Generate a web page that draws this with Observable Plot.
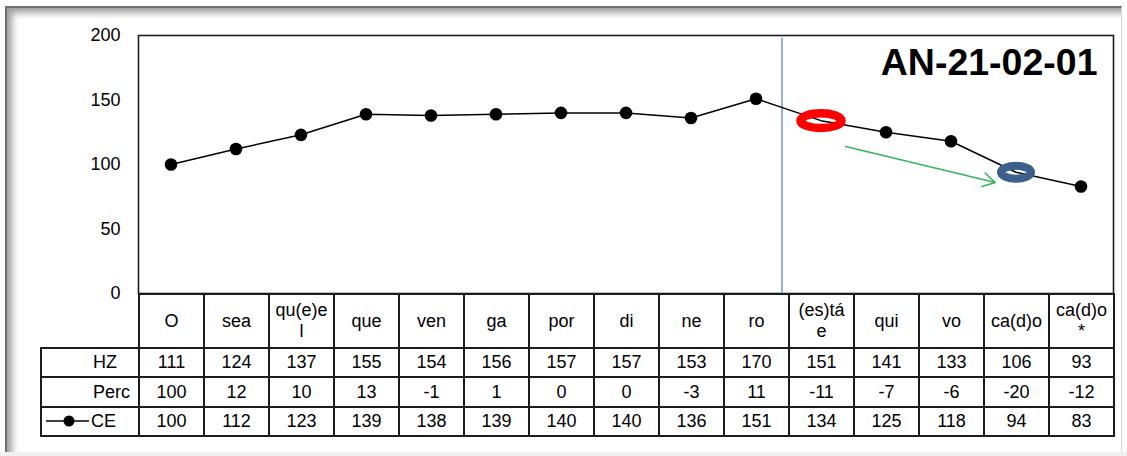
<!DOCTYPE html>
<html><head><meta charset="utf-8">
<script src="https://cdn.jsdelivr.net/npm/d3@7"></script>
<script src="https://cdn.jsdelivr.net/npm/@observablehq/plot@0.6"></script>
<style>
html,body{margin:0;padding:0;background:#fff;}
body{width:1127px;height:456px;position:relative;overflow:hidden;font-family:"Liberation Sans",Arial,sans-serif;}
#band{position:absolute;left:0;top:452px;width:1127px;height:4px;background:#f0f0f0;}
#frame{position:absolute;left:5px;top:6px;width:1117px;height:446px;box-sizing:border-box;border-top:2px solid #6e6e6e;border-left:2px solid #6e6e6e;border-right:1px solid #d8d8d8;box-shadow:inset 9px 9px 7px -4px rgba(0,0,0,0.38);background:#fff;}
#chart{position:absolute;left:0;top:0;}
#table{position:absolute;left:40px;top:293px;}
#table table{border-collapse:collapse;table-layout:fixed;width:1073px;font-size:18px;color:#000;}
#table td{border:2px solid #1c1c1c;text-align:center;padding:0;line-height:21px;white-space:pre;overflow:hidden;}
#table td.blank{border:none;}
#table td.lab{text-align:left;padding-left:51px;}
#table td.labce{text-align:left;padding-left:4px;}
</style>
</head><body>
<div id="band"></div>
<div id="frame"></div>
<div id="chart"></div>
<div id="table"></div>
<script>
// ---- data ----
const categories = ["O","sea","qu(e)el","que","ven","ga","por","di","ne","ro","(es)tá e","qui","vo","ca(d)o","ca(d)o*"];
const headerLabels = ["O","sea","qu(e)e\nl","que","ven","ga","por","di","ne","ro","(es)tá\ne","qui","vo","ca(d)o","ca(d)o\n*"];
const hz   = [111,124,137,155,154,156,157,157,153,170,151,141,133,106,93];
const perc = [100,12,10,13,-1,1,0,0,-3,11,-11,-7,-6,-20,-12];
const ce   = [100,112,123,139,138,139,140,140,136,151,134,125,118,94,83];
const yTicks = [0,50,100,150,200];
const rowNames = ["HZ","Perc","CE"];
const title = "AN-21-02-01";
const highlightRed = "(es)tá e";
const highlightBlue = "ca(d)o";
const dividerAt = 9.4;                 // between "ro" and "(es)tá e"
const arrowSeg = [{i1:10.38, v1:114, i2:12.68, v2:86}];

const d = categories.map((c,i)=>({i, c, ce: ce[i]}));

// ellipse symbol for highlighted points
const ellipse = (rx, ry) => ({draw(ctx){
  const k = 0.5523;
  ctx.moveTo(rx,0);
  ctx.bezierCurveTo(rx, ry*k, rx*k, ry, 0, ry);
  ctx.bezierCurveTo(-rx*k, ry, -rx, ry*k, -rx, 0);
  ctx.bezierCurveTo(-rx, -ry*k, -rx*k, -ry, 0, -ry);
  ctx.bezierCurveTo(rx*k, -ry, rx, -ry*k, rx, 0);
  ctx.closePath();
}});

const chart = Plot.plot({
  width: 1127, height: 310,
  marginTop: 35, marginBottom: 17, marginLeft: 138, marginRight: 14,
  style: {fontFamily: "'Liberation Sans', Arial, sans-serif", fontSize: "18px", background: "transparent", color: "#000", overflow: "visible"},
  x: {type: "linear", domain: [-0.5, 14.5], axis: null},
  y: {domain: [0, 200], ticks: yTicks, tickSize: 0, tickPadding: 18, label: null},
  marks: [
    Plot.frame({stroke: "#1c1c1c", strokeWidth: 1.6}),
    Plot.ruleX([dividerAt], {y1: -1.5, y2: 198, stroke: "#7d9dd1", strokeWidth: 1.6, clip: false}),
    Plot.line(d, {x: "i", y: "ce", stroke: "#000", strokeWidth: 1.5}),
    Plot.dot(d.filter(p => p.c !== highlightRed && p.c !== highlightBlue), {x: "i", y: "ce", r: 6.3, fill: "#000", stroke: "none"}),
    Plot.dot(d.filter(p => p.c === highlightRed), {x: "i", y: "ce", r: 10, symbol: ellipse(20.5, 7.4), fill: "none", stroke: "#ff0000", strokeWidth: 8.5}),
    Plot.dot(d.filter(p => p.c === highlightBlue), {x: "i", y: "ce", r: 10, symbol: ellipse(15, 6.4), fill: "none", stroke: "#3d5f8c", strokeWidth: 8}),
    Plot.arrow(arrowSeg, {x1: "i1", y1: "v1", x2: "i2", y2: "v2", stroke: "#35b55c", strokeWidth: 1.6, headLength: 13}),
    Plot.text([title], {frameAnchor: "top-right", dx: -16, dy: 13, fontSize: 37.5, fontWeight: "bold", fill: "#000"})
  ]
});
document.getElementById("chart").append(chart);

// ---- data table ----
const tbl = d3.select("#table").append("table");
const cg = tbl.append("colgroup");
cg.append("col").style("width", "98px");
categories.forEach(() => cg.append("col").style("width", "65px"));

const hdr = tbl.append("tr").style("height", "54px");
hdr.append("td").attr("class", "blank");
headerLabels.forEach(l => hdr.append("td").text(l));

const rows = [hz, perc, ce];
const heights = [29, 30, 29];
rows.forEach((vals, r) => {
  const tr = tbl.append("tr").style("height", heights[r] + "px");
  const lab = tr.append("td");
  if (rowNames[r] === "CE") {
    lab.attr("class", "labce");
    const key = lab.append("svg").attr("width", 45).attr("height", 14)
      .style("vertical-align", "-1px").style("display", "inline-block");
    key.append("line").attr("x1", 0).attr("x2", 43).attr("y1", 7).attr("y2", 7)
      .attr("stroke", "#000").attr("stroke-width", 1.5);
    key.append("circle").attr("cx", 23).attr("cy", 7).attr("r", 5.5).attr("fill", "#000");
    lab.append("span").text(rowNames[r]);
  } else {
    lab.attr("class", "lab").text(rowNames[r]);
  }
  vals.forEach(v => tr.append("td").text(v));
});
</script>
</body></html>
